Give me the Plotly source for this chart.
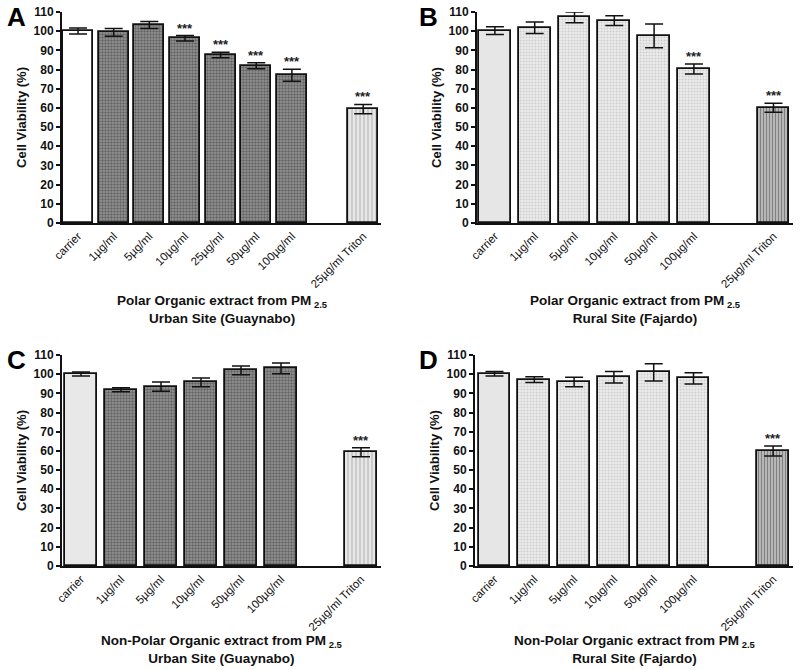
import plotly.graph_objects as go

# ---------------- data ----------------
A_labels = ["carrier", "1µg/ml", "5µg/ml", "10µg/ml", "25µg/ml", "50µg/ml", "100µg/ml", "25µg/ml Triton"]
A_values = [100.1, 99.4, 103.2, 96.3, 87.6, 82.0, 77.0, 59.4]
A_errors = [1.6, 2.0, 1.8, 1.4, 1.4, 1.6, 3.1, 2.4]
A_sig = ["", "", "", "***", "***", "***", "***", "***"]

B_labels = ["carrier", "1µg/ml", "5µg/ml", "10µg/ml", "50µg/ml", "100µg/ml", "25µg/ml Triton"]
B_values = [100.3, 101.8, 107.2, 105.5, 97.6, 80.3, 60.1]
B_errors = [2.0, 3.0, 2.8, 2.6, 6.2, 2.6, 2.3]
B_sig = ["", "", "", "", "", "***", "***"]

C_labels = ["carrier", "1µg/ml", "5µg/ml", "10µg/ml", "50µg/ml", "100µg/ml", "25µg/ml Triton"]
C_values = [100.1, 91.9, 93.5, 95.7, 102.0, 103.0, 59.3]
C_errors = [1.1, 1.0, 2.4, 2.3, 2.3, 2.8, 2.4]
C_sig = ["", "", "", "", "", "", "***"]

D_labels = ["carrier", "1µg/ml", "5µg/ml", "10µg/ml", "50µg/ml", "100µg/ml", "25µg/ml Triton"]
D_values = [100.2, 97.2, 95.9, 98.4, 101.0, 97.8, 60.0]
D_errors = [1.2, 1.5, 2.5, 3.0, 4.5, 2.9, 2.6]
D_sig = ["", "", "", "", "", "", "***"]

titles = {
    "A": "<b>Polar Organic extract from PM<sub> 2.5</sub></b><br><b>Urban Site (Guaynabo)</b>",
    "B": "<b>Polar Organic extract from PM<sub> 2.5</sub></b><br><b>Rural Site (Fajardo)</b>",
    "C": "<b>Non-Polar Organic extract from PM<sub> 2.5</sub></b><br><b>Urban Site (Guaynabo)</b>",
    "D": "<b>Non-Polar Organic extract from PM<sub> 2.5</sub></b><br><b>Rural Site (Fajardo)</b>",
}

# ---------------- styles ----------------
W, H = 800, 670
FONT = "Liberation Sans, Arial, sans-serif"

dark_dots = dict(shape=".", bgcolor="#979797", fgcolor="#303030", size=3, solidity=0.5)
light_dots = dict(shape=".", bgcolor="#ebebeb", fgcolor="#b0b0b0", size=3, solidity=0.35)
light_vlines = dict(shape="|", bgcolor="#e6e6e6", fgcolor="#8c8c8c", size=4, solidity=0.3)
dark_vlines = dict(shape="|", bgcolor="#bdbdbd", fgcolor="#444444", size=3, solidity=0.4)

panels = [
    ("A", A_labels, A_values, A_errors, A_sig, (62, 381), (12, 223), (-0.45, 8.5), 0.845, "#ffffff", dark_dots, light_vlines, 86),
    ("B", B_labels, B_values, B_errors, B_sig, (477, 793), (12, 223), (-0.45, 7.49), 0.80, "#e6e6e6", light_dots, dark_vlines, 86),
    ("C", C_labels, C_values, C_errors, C_sig, (62, 381), (355, 566), (-0.475, 7.5), 0.80, "#e8e8e8", dark_dots, light_vlines, 83),
    ("D", D_labels, D_values, D_errors, D_sig, (475, 793), (355, 566), (-0.49, 7.5), 0.80, "#e6e6e6", light_dots, dark_vlines, 83),
]

fig = go.Figure()
layout = {}
annotations = []

for i, (key, labels, values, errors, sig, xd, yd, xr, bw, carrier_fill, dose_pat, trit_pat, toff) in enumerate(panels):
    n = len(labels)
    pos = list(range(n - 1)) + [n]
    xa = "x" if i == 0 else f"x{i+1}"
    ya = "y" if i == 0 else f"y{i+1}"

    groups = [
        ([0], dict(color=carrier_fill)),
        (list(range(1, n - 1)), dict(color=dose_pat["bgcolor"], pattern=dose_pat)),
        ([n - 1], dict(color=trit_pat["bgcolor"], pattern=trit_pat)),
    ]
    for idx, mk in groups:
        fig.add_trace(go.Bar(
            x=[pos[j] for j in idx],
            y=[values[j] for j in idx],
            width=bw,
            marker=dict(line=dict(color="#111111", width=1.8), **mk),
            error_y=dict(type="data", array=[errors[j] for j in idx], color="#111111",
                         thickness=1.5, width=9),
            xaxis=xa, yaxis=ya, showlegend=False, hoverinfo="skip",
        ))

    for j in range(n):
        if sig[j]:
            annotations.append(dict(
                x=pos[j], y=values[j] + errors[j], xref=xa, yref=ya,
                text=f"<b>{sig[j]}</b>", showarrow=False, yanchor="bottom", yshift=-2,
                font=dict(family=FONT, size=13, color="#222222"),
            ))

    xdom = [xd[0] / W, xd[1] / W]
    ydom = [(H - yd[1]) / H, (H - yd[0]) / H]
    layout["xaxis" if i == 0 else f"xaxis{i+1}"] = dict(
        domain=xdom, range=list(xr), anchor=ya,
        tickmode="array", tickvals=pos, ticktext=labels, tickangle=-45,
        tickfont=dict(family=FONT, size=11.5, color="#111111"),
        showline=True, linecolor="#111111", linewidth=2, ticks="",
        showgrid=False, zeroline=False, fixedrange=True, automargin=False,
    )
    layout["yaxis" if i == 0 else f"yaxis{i+1}"] = dict(
        domain=ydom, range=[0, 110], anchor=xa, dtick=10, tick0=0,
        showline=True, linecolor="#111111", linewidth=2,
        ticks="outside", ticklen=4, tickwidth=1.5, tickcolor="#111111",
        tickfont=dict(family=FONT, size=12, color="#111111", weight="bold"),
        title=dict(text="<b>Cell Viability (%)</b>", standoff=4,
                   font=dict(family=FONT, size=13, color="#111111")),
        showgrid=False, zeroline=False, fixedrange=True, automargin=False,
    )

    cx = (xd[0] + xd[1]) / 2 / W
    cy = (H - (yd[1] + toff)) / H
    annotations.append(dict(
        x=cx, y=cy, xref="paper", yref="paper", text=titles[key], showarrow=False,
        xanchor="center", yanchor="middle", align="center",
        font=dict(family=FONT, size=13.5, color="#111111"),
    ))

for letter, px, py in [("A", 16, 17), ("B", 428, 17), ("C", 16, 360), ("D", 428, 360)]:
    annotations.append(dict(
        x=px / W, y=(H - py) / H, xref="paper", yref="paper", text=f"<b>{letter}</b>",
        showarrow=False, xanchor="center", yanchor="middle",
        font=dict(family=FONT, size=26, color="#000000"),
    ))

fig.update_layout(
    width=W, height=H, margin=dict(l=0, r=0, t=0, b=0, autoexpand=False),
    paper_bgcolor="white", plot_bgcolor="white",
    bargap=0, annotations=annotations, **layout,
)

fig.write_html("out.html", config={"responsive": False, "displayModeBar": False},
               post_script="document.body.style.margin='0px';")
